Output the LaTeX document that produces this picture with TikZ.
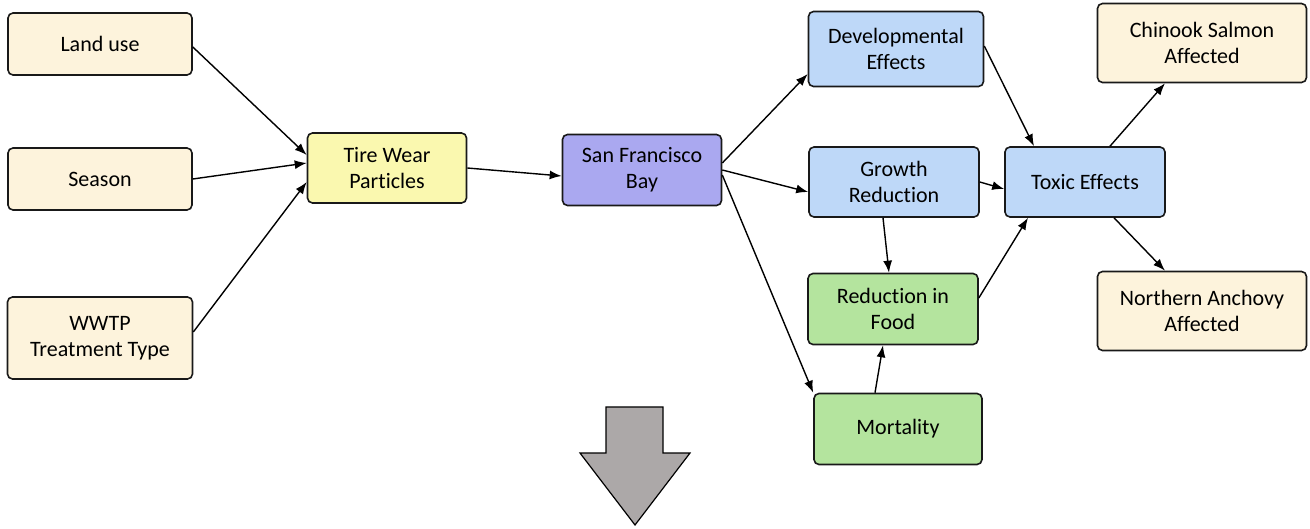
\documentclass[tikz,border=0pt]{standalone}
\usepackage{fontspec}
\setmainfont[Ligatures=NoCommon]{Carlito}
\usepackage{tikz}
\usetikzlibrary{arrows.meta}

\definecolor{creamfill}{RGB}{253,243,220}
\definecolor{yellowfill}{RGB}{250,248,175}
\definecolor{purplefill}{RGB}{170,168,240}
\definecolor{bluefill}{RGB}{190,216,248}
\definecolor{greenfill}{RGB}{180,228,158}
\definecolor{greyfill}{RGB}{172,168,168}
\definecolor{edgecol}{RGB}{25,25,25}

\begin{document}
\begin{tikzpicture}[
      x=1pt, y=-1pt,
      box/.style={
            rectangle, draw=edgecol, line width=1.6pt,
            rounded corners=5pt, align=center, inner sep=2pt,
            font=\fontsize{22}{26}\selectfont, text=black
        },
      factor/.style={box, fill=creamfill},
      particle/.style={box, fill=yellowfill},
      bay/.style={box, fill=purplefill},
      effect/.style={box, fill=bluefill},
      food/.style={box, fill=greenfill},
      species/.style={box, fill=creamfill},
      link/.style={-{Latex[length=12pt,width=9pt]}, line width=1.4pt, draw=black}
      ]
    \useasboundingbox (0,0) rectangle (1310,529);

    % inputs
    \node[factor, minimum width=184pt, minimum height=62pt] (land) at (100,44) {Land use};
    \node[factor, minimum width=184pt, minimum height=62pt] (season) at (100,179) {Season};
    \node[factor, minimum width=185pt, minimum height=82pt] (wwtp) at (100,338) {WWTP\\Treatment Type};

    \node[particle, minimum width=159pt, minimum height=70pt] (twp) at (387,168) {Tire Wear\\Particles};
    \node[bay, minimum width=159pt, minimum height=71pt] (sfb) at (642,170) {San Francisco\\Bay};

    % effects
    \node[effect, minimum width=175pt, minimum height=75pt] (dev) at (896,49) {Developmental\\Effects};
    \node[effect, minimum width=170pt, minimum height=70pt] (growth) at (894,182) {Growth\\Reduction};
    \node[effect, minimum width=160pt, minimum height=70pt] (toxic) at (1085,182) {Toxic Effects};
    \node[food, minimum width=170pt, minimum height=71pt] (food) at (893,309) {Reduction in\\Food};
    \node[food, minimum width=168pt, minimum height=71pt] (mort) at (898,429) {Mortality};

    % species
    \node[species, minimum width=209pt, minimum height=79pt] (salmon) at (1202,43) {Chinook Salmon\\Affected};
    \node[species, minimum width=209pt, minimum height=79pt] (anchovy) at (1202,311) {Northern Anchovy\\Affected};

    \draw[link] ([yshift=-3pt]land.east) -- ([yshift=13pt]twp.west);
    \draw[link] (season.east) -- ([yshift=5pt]twp.west);
    \draw[link] ([yshift=6pt]wwtp.east) -- ([yshift=-14pt]twp.west);
    \draw[link] (twp.east) -- ([yshift=-6pt]sfb.west);

    \draw[link] ([yshift=7pt]sfb.east) -- ([yshift=-25pt]dev.west);
    \draw[link] (sfb.east) -- ([yshift=-10pt]growth.west);
    \draw[link] ([yshift=-5pt]sfb.east) -- (mort.north west);

    \draw[link] ([yshift=3pt]dev.east) -- ([xshift=-51pt]toxic.north);
    \draw[link] (growth.east) -- ([yshift=-7pt]toxic.west);
    \draw[link] ([xshift=-11pt]growth.south) -- ([xshift=-4pt]food.north);
    \draw[link] ([yshift=11pt]food.east) -- ([xshift=-57pt]toxic.south);
    \draw[link] ([xshift=-23pt]mort.north) -- ([xshift=-10pt]food.south);

    \draw[link] ([xshift=25pt]toxic.north) -- ([xshift=-37pt]salmon.south);
    \draw[link] ([xshift=29pt]toxic.south) -- ([xshift=-37pt]anchovy.north);

    % big grey arrow
    \draw[fill=greyfill, draw=black, line width=1.2pt]
      (606,407) -- (663,407) -- (663,453) -- (690,453) -- (635,525)
      -- (580,453) -- (606,453) -- cycle;
\end{tikzpicture}
\end{document}
